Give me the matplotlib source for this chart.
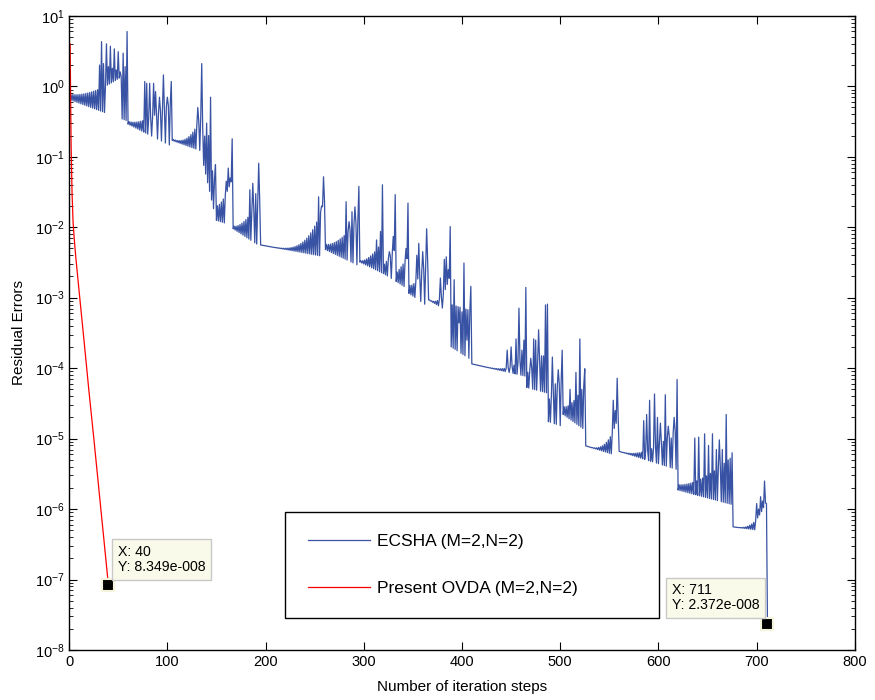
import numpy as np
import matplotlib
matplotlib.use("Agg")
import matplotlib.pyplot as plt
from matplotlib.ticker import LogLocator, NullFormatter

plt.rcParams['font.family'] = ['Liberation Sans', 'DejaVu Sans']
plt.rcParams['mathtext.fontset'] = 'custom'
plt.rcParams['mathtext.rm'] = 'Liberation Sans'

# ---- red curve (Present OVDA)
ovda_iter = [1, 2, 3, 4, 5, 6, 7, 10, 15, 20, 25, 30, 35, 40]
ovda_err = [4.0, 0.15, 0.03, 0.012, 0.0075, 0.005, 0.0035, 0.0013, 2.6e-4,
            5e-5, 1.05e-5, 2.1e-6, 4.2e-7, 8.349e-8]

# ---- blue curve (ECSHA): segments between restarts
# start iter, end iter, lower envelope start/end, upper/lower ratio start/end, growth shape
seg_start = [0, 60, 105, 135, 150, 167, 195, 261, 296, 320, 333, 346, 366, 389,
             410, 466, 488, 503, 526, 560, 620, 676]
seg_end = [60, 105, 135, 150, 167, 195, 261, 296, 320, 333, 346, 366, 389, 410,
           466, 488, 503, 526, 560, 620, 676, 711]
lo_first = [0.65, 0.29, 0.17, 0.10, 0.0125, 0.0095, 0.0056, 0.0048, 0.0032, 0.0022,
            0.0017, 0.00115, 0.00093, 0.0002, 0.000115, 5.3e-5, 1.74e-5, 2.2e-5,
            7.9e-6, 6.6e-6, 1.86e-6, 5.6e-7]
lo_last = [0.32, 0.14, 0.12, 0.012, 0.0105, 0.0053, 0.0038, 0.0028, 0.0022, 0.0017,
           0.0013, 0.00074, 0.0006, 0.00013, 7.6e-5, 4.4e-5, 1.48e-5, 1.3e-5,
           5.6e-6, 3.6e-6, 1.15e-6, 4.8e-7]
ratio_first = [1.2, 1.1, 1.05, 3.0, 1.6, 1.1, 1.0, 1.2, 1.05, 1.3, 1.3, 1.3, 1.02, 4.0,
               1.0, 1.6, 2.0, 1.3, 1.0, 1.0, 1.2, 1.0]
ratio_last = [5.0, 4.3, 3.3, 3.0, 5.0, 5.0, 7.0, 5.0, 3.0, 3.0, 3.0, 5.0, 4.0, 5.0,
              2.2, 4.0, 5.0, 5.0, 4.0, 4.0, 5.0, 3.0]
shape = [1.5, 1.5, 2.5, 1.0, 1.5, 1.5, 4.0, 1.5, 1.5, 1.0, 1.0, 1.5, 2.5, 1.0,
         4.0, 1.0, 1.0, 1.5, 3.0, 2.0, 1.5, 3.0]

spike_iter = [31, 33, 35, 38, 40, 42, 44, 46, 48, 50, 52, 55, 57, 59,
              77, 79, 82, 86, 88, 92, 96, 100, 104,
              131, 135, 140, 142, 144, 149,
              160, 162, 164, 166,
              184, 187, 190, 193,
              254, 257, 259,
              282, 285, 288, 291, 295,
              313, 317, 319,
              326, 330, 332,
              343, 345,
              354, 356, 360, 364,
              378, 382, 384, 386, 388,
              392, 397, 400, 402, 405, 409,
              446, 450, 455, 458, 461, 463, 465,
              470, 473, 475, 478, 481, 485, 487,
              492, 495, 498, 502,
              510, 516, 520, 522, 525,
              554, 556, 558,
              585, 588, 591, 596, 599, 602, 607, 610, 613, 616, 619,
              637, 641, 647, 651, 655, 659, 662, 665, 669, 675,
              700, 702, 704, 706, 708, 710, 711]
spike_val = [2.0, 4.3, 2.1, 4.0, 1.9, 3.7, 1.8, 3.4, 1.7, 3.1, 1.6, 2.95, 1.9, 6.0,
             1.17, 1.1, 1.1, 1.1, 0.84, 0.7, 1.45, 0.7, 1.17,
             0.5, 2.1, 0.30, 0.2, 0.70, 0.077,
             0.045, 0.069, 0.05, 0.18,
             0.034, 0.042, 0.03, 0.081,
             0.027, 0.02, 0.052,
             0.023, 0.012, 0.0166, 0.0195, 0.038,
             0.0066, 0.0087, 0.040,
             0.0045, 0.0074, 0.029,
             0.005, 0.022,
             0.004, 0.0059, 0.0045, 0.0095,
             0.0019, 0.0035, 0.0038, 0.0025, 0.0102,
             0.0018, 0.00044, 0.00063, 0.0031, 0.00025, 0.00145,
             0.00018, 0.0002, 0.00026, 0.00071, 0.00018, 0.00025, 0.0014,
             0.000138, 0.00026, 0.00025, 0.00035, 0.00015, 0.00079, 0.00081,
             0.000144, 6e-5, 9.5e-5, 0.00018,
             5e-5, 8.7e-5, 0.00026, 5e-5, 9.8e-5,
             3.5e-5, 2.5e-5, 7.2e-5,
             1.8e-5, 2.2e-5, 3.5e-5, 4.3e-5, 2e-5, 1.66e-5, 4.2e-5, 1.5e-5, 1.02e-5, 2e-5, 6.9e-5,
             1.02e-5, 1.05e-5, 1.17e-5, 8e-6, 1.17e-5, 7e-6, 9.6e-6, 7e-6, 2.2e-5, 6.3e-6,
             1.2e-6, 1.0e-6, 1.5e-6, 1.3e-6, 2.5e-6, 1.2e-6, 2.372e-8]

ecsha_err = np.zeros(712)
for s, e, l0, l1, r0, r1, p in zip(seg_start, seg_end, lo_first, lo_last,
                                   ratio_first, ratio_last, shape):
    for i in range(s, e + 1):
        t = (i - s) / (e - s)
        lo = l0 * (l1 / l0) ** t
        if (i - s) % 2 == 0:
            ecsha_err[i] = lo
        else:
            ecsha_err[i] = lo * r0 * ((r1 / r0) ** (t ** p))
ecsha_err[spike_iter] = spike_val
ecsha_iter = np.arange(712)

fig = plt.figure(figsize=(8.75, 7), dpi=100)
ax = fig.add_axes([0.079, 0.0714, 0.898, 0.906])

ax.semilogy(ecsha_iter, ecsha_err, color='#3852a4', lw=0.9, label='ECSHA (M=2,N=2)')
ax.semilogy(ovda_iter, ovda_err, color='red', lw=0.9, label='Present OVDA (M=2,N=2)')

ax.set_xlim(0, 800)
ax.set_ylim(1e-8, 10)
ax.yaxis.set_major_locator(LogLocator(base=10, numticks=20))
ax.yaxis.set_minor_locator(LogLocator(base=10, subs=np.arange(2, 10), numticks=20))
ax.yaxis.set_minor_formatter(NullFormatter())
ax.tick_params(which='both', direction='in', top=True, right=True, labelsize=10.5)
ax.tick_params(which='major', length=6)
ax.tick_params(which='minor', length=3)
for sp in ax.spines.values():
    sp.set_linewidth(1.0)
ax.set_xlabel('Number of iteration steps', fontsize=11, labelpad=8)
ax.set_ylabel('Residual Errors', fontsize=11, labelpad=6)

leg = ax.legend(loc='lower left', bbox_to_anchor=(0.275, 0.05, 0.476, 0.166),
                mode='expand', borderaxespad=0, fontsize=12.5, handlelength=3.6,
                handletextpad=0.4, labelspacing=1.8, borderpad=1.3,
                fancybox=False, framealpha=1)
leg.get_frame().set_edgecolor('black')
leg.get_frame().set_linewidth(1.0)

# data tips
tip_x = [40, 711]
tip_y = [8.349e-8, 2.372e-8]
tip_txt = ['X: 40\nY: 8.349e-008', 'X: 711\nY: 2.372e-008']
tip_off = [(7, 8), (-6, 8)]
tip_ha = ['left', 'right']
for x, y, t, off, ha in zip(tip_x, tip_y, tip_txt, tip_off, tip_ha):
    ax.plot(x, y, 's', color='black', ms=8, mec='#f4f4dc', mew=1.5, zorder=7)
    ax.annotate(t, xy=(x, y), xytext=off, textcoords='offset points', ha=ha,
                va='bottom', fontsize=10.2, linespacing=1.1, multialignment='left',
                zorder=8,
                bbox=dict(boxstyle='square,pad=0.4', fc='#fafaea', ec='#c8c8c8', lw=1))

fig.savefig('out.png', dpi=100)
